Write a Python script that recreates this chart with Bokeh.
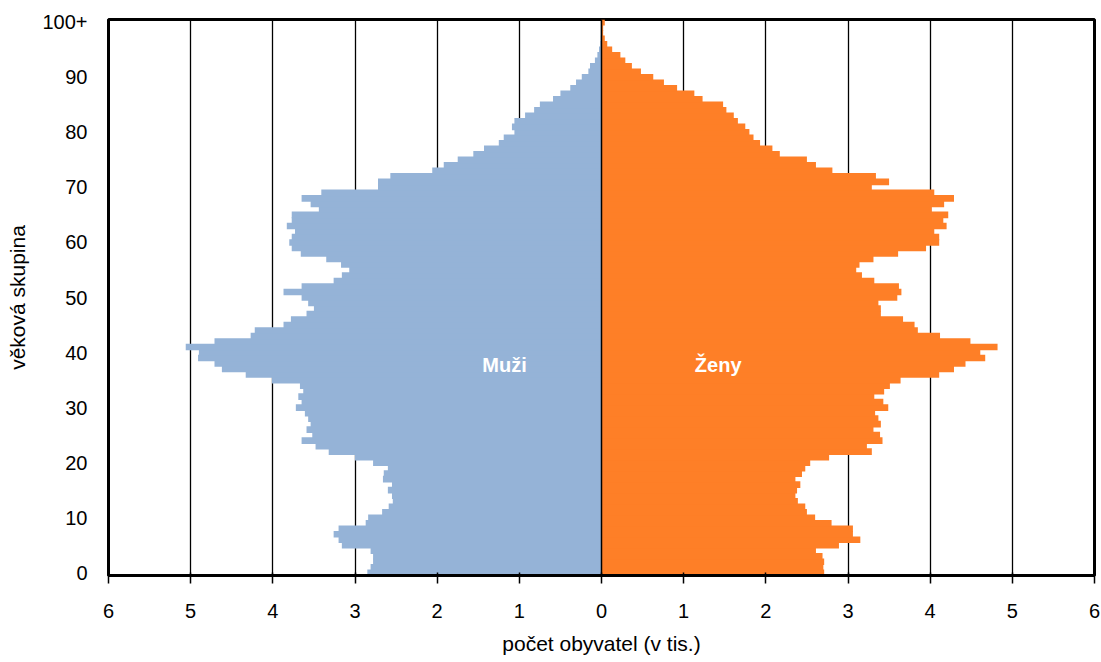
from bokeh.plotting import figure
from bokeh.models import Range1d, FixedTicker, Span, Label, ColumnDataSource
from bokeh.embed import file_html
from bokeh.resources import INLINE

ages = list(range(0, 101))

muzi = [2.85, 2.81, 2.78, 2.78, 2.81, 3.16, 3.20, 3.26, 3.20, 2.87,
        2.84, 2.67, 2.59, 2.54, 2.55, 2.60, 2.55, 2.66, 2.65, 2.60,
        2.78, 3.00, 3.32, 3.48, 3.65, 3.52, 3.59, 3.54, 3.57, 3.61,
        3.72, 3.65, 3.69, 3.63, 3.67, 4.01, 4.33, 4.62, 4.71, 4.91,
        4.90, 5.06, 4.71, 4.27, 4.22, 3.87, 3.78, 3.59, 3.50, 3.57,
        3.65, 3.87, 3.65, 3.26, 3.16, 3.07, 3.17, 3.35, 3.66, 3.77,
        3.80, 3.77, 3.73, 3.83, 3.77, 3.77, 3.44, 3.54, 3.65, 3.41,
        2.72, 2.72, 2.57, 2.06, 1.92, 1.75, 1.56, 1.43, 1.25, 1.19,
        1.06, 1.09, 1.06, 0.93, 0.82, 0.75, 0.59, 0.50, 0.38, 0.31,
        0.24, 0.16, 0.14, 0.08, 0.05, 0.03, 0.016, 0.01, 0.006, 0.004,
        0.003]

zeny = [2.71, 2.70, 2.71, 2.69, 2.61, 2.89, 3.15, 3.06, 3.06, 2.80,
        2.60, 2.50, 2.48, 2.39, 2.36, 2.38, 2.42, 2.36, 2.44, 2.48,
        2.54, 2.77, 3.29, 3.23, 3.42, 3.39, 3.31, 3.40, 3.37, 3.33,
        3.49, 3.43, 3.32, 3.44, 3.51, 3.64, 4.11, 4.29, 4.43, 4.67,
        4.61, 4.82, 4.49, 4.12, 3.85, 3.81, 3.67, 3.40, 3.40, 3.37,
        3.60, 3.65, 3.62, 3.32, 3.17, 3.10, 3.14, 3.31, 3.61, 3.95,
        4.11, 4.11, 4.05, 4.20, 4.16, 4.22, 4.02, 4.17, 4.29, 4.05,
        3.29, 3.50, 3.34, 2.81, 2.61, 2.50, 2.17, 2.08, 1.93, 1.85,
        1.80, 1.75, 1.66, 1.61, 1.52, 1.48, 1.23, 1.13, 0.92, 0.76,
        0.63, 0.48, 0.37, 0.29, 0.23, 0.13, 0.07, 0.04, 0.02, 0.02,
        0.04]

x_ticks = [-6, -5, -4, -3, -2, -1, 0, 1, 2, 3, 4, 5, 6]
y_ticks = [0, 10, 20, 30, 40, 50, 60, 70, 80, 90, 100]
y_tick_labels = ["0", "10", "20", "30", "40", "50", "60", "70", "80", "90", "100+"]

FONT = "Liberation Sans"
BLUE = "#95B3D7"
ORANGE = "#FE7F27"

p = figure(width=1100, height=661, output_backend="svg", toolbar_location=None,
           x_range=Range1d(-6, 6), y_range=Range1d(-0.5, 100.5),
           min_border_left=108, min_border_right=6, min_border_top=19,
           min_border_bottom=86)
p.background_fill_color = "white"
p.border_fill_color = "white"
p.outline_line_color = "black"
p.outline_line_width = 3

src = ColumnDataSource(dict(age=ages, m=[-v for v in muzi], z=zeny))
p.hbar(y="age", left="m", right=0, height=1.2, source=src,
       fill_color=BLUE, line_color=None)
p.hbar(y="age", left=0, right="z", height=1.2, source=src,
       fill_color=ORANGE, line_color=None)

p.add_layout(Span(location=0, dimension="height", line_color="black",
                  line_width=1.5))

# grid
p.ygrid.grid_line_color = None
p.xgrid.grid_line_color = "black"
p.xgrid.grid_line_width = 1.3
p.xgrid.ticker = FixedTicker(ticks=x_ticks)

# x axis
xa = p.xaxis[0]
xa.ticker = FixedTicker(ticks=x_ticks)
xa.major_label_overrides = {t: str(abs(t)) for t in x_ticks}
xa.axis_line_color = "black"
xa.axis_line_width = 3
xa.major_tick_line_color = "black"
xa.major_tick_line_width = 1.5
xa.major_tick_in = 3
xa.major_tick_out = 8
xa.minor_tick_line_color = None
xa.major_label_standoff = 20
xa.major_label_text_font = FONT
xa.major_label_text_font_size = "20px"
xa.major_label_text_color = "black"
xa.axis_label = "počet obyvatel (v tis.)"
xa.axis_label_text_font = FONT
xa.axis_label_text_font_size = "21px"
xa.axis_label_text_font_style = "normal"
xa.axis_label_text_color = "black"
xa.axis_label_standoff = 11

# y axis
ya = p.yaxis[0]
ya.ticker = FixedTicker(ticks=y_ticks)
ya.major_label_overrides = {t: l for t, l in zip(y_ticks, y_tick_labels)}
ya.axis_line_color = "black"
ya.axis_line_width = 2.5
ya.major_tick_line_color = None
ya.minor_tick_line_color = None
ya.major_tick_out = 0
ya.major_tick_in = 0
ya.major_label_standoff = 21
ya.major_label_text_font = FONT
ya.major_label_text_font_size = "20px"
ya.major_label_text_color = "black"
ya.axis_label = "věková skupina"
ya.axis_label_text_font = FONT
ya.axis_label_text_font_size = "21px"
ya.axis_label_text_font_style = "normal"
ya.axis_label_text_color = "black"
ya.axis_label_standoff = 10

p.add_layout(Label(x=-1.18, y=37.7, text="Muži", text_color="white",
                   text_font=FONT, text_font_size="20px", text_font_style="bold",
                   text_align="center", text_baseline="middle"))
p.add_layout(Label(x=1.42, y=37.7, text="Ženy", text_color="white",
                   text_font=FONT, text_font_size="20px", text_font_style="bold",
                   text_align="center", text_baseline="middle"))

open("out.html", "w").write(file_html(p, INLINE))
